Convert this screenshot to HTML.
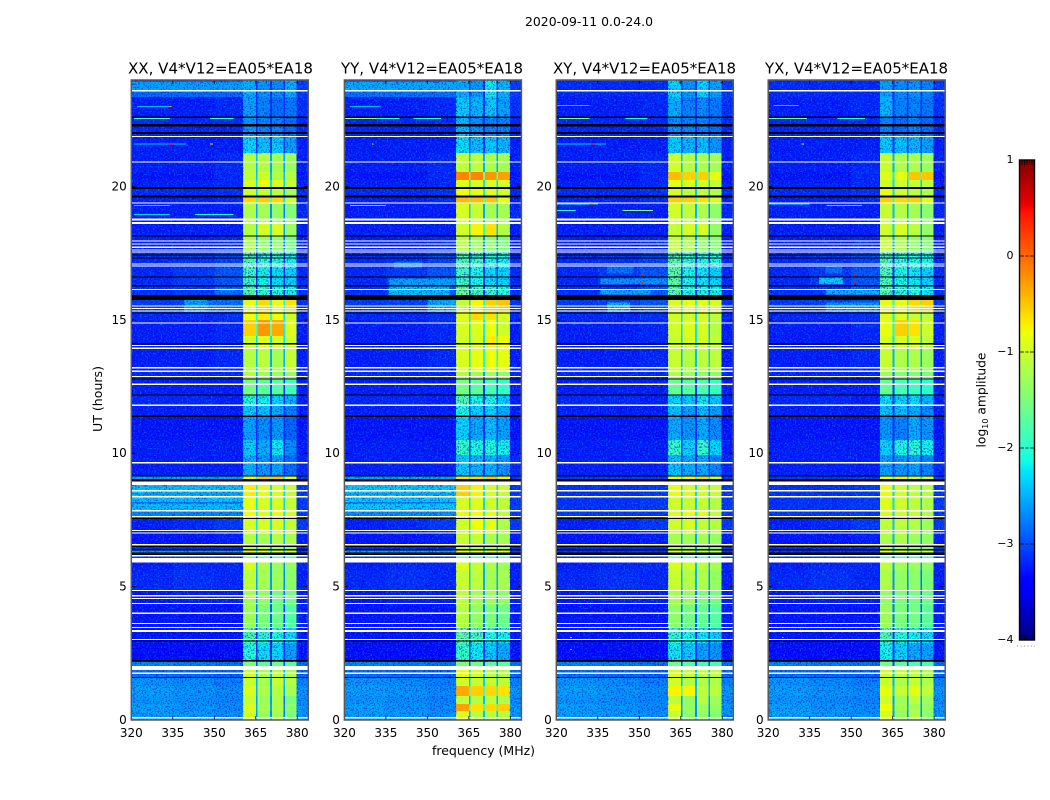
<!DOCTYPE html>
<html lang="en">
<head>
<meta charset="utf-8">
<title>2020-09-11 0.0-24.0</title>
<style>
html,body{margin:0;padding:0;background:#fff;width:1050px;height:800px;overflow:hidden}
svg{display:block}
text{font-family:"DejaVu Sans","Liberation Sans",sans-serif;fill:#000}
</style>
</head>
<body>
<svg id="figure" xmlns="http://www.w3.org/2000/svg" width="1050" height="800" viewBox="0 0 1050 800">
  <defs>
    <filter id="grain-light" x="0" y="0" width="1" height="1" color-interpolation-filters="sRGB">
      <feTurbulence type="fractalNoise" baseFrequency="0.62" numOctaves="2" seed="4"/>
      <feColorMatrix type="matrix" values="0 0 0 0 0.05  0 0 0 0 0.55  0 0 0 0 1  6 0 0 0 -3.1"/>
    </filter>
    <filter id="grain-dark" x="0" y="0" width="1" height="1" color-interpolation-filters="sRGB">
      <feTurbulence type="fractalNoise" baseFrequency="0.62" numOctaves="2" seed="11"/>
      <feColorMatrix type="matrix" values="0 0 0 0 0  0 0 0 0 0  0 0 0 0 0.72  0 6 0 0 -3.1"/>
    </filter>
    <linearGradient id="jet-gradient" x1="0" y1="1" x2="0" y2="0"></linearGradient>
  </defs>
  <rect x="0" y="0" width="1050" height="800" fill="#fff"/>
  <text x="589" y="26" font-size="12" text-anchor="middle" textLength="128" lengthAdjust="spacingAndGlyphs">2020-09-11 0.0-24.0</text>
  <text x="483.5" y="755" font-size="12" text-anchor="middle" textLength="103" lengthAdjust="spacingAndGlyphs">frequency (MHz)</text>
  <text transform="translate(102,399) rotate(-90)" font-size="12" text-anchor="middle" textLength="66" lengthAdjust="spacingAndGlyphs">UT (hours)</text>
  <g id="panels"></g>
  <g id="colorbar">
    <rect x="1019.5" y="160" width="15" height="480" fill="url(#jet-gradient)" stroke="#000" stroke-width="1.4"/>
    <line x1="1017" y1="646" x2="1035" y2="646" stroke="#8a8a8a" stroke-width="1" stroke-dasharray="1 2.5"/>
    <text transform="translate(985.5,400) rotate(-90)" font-size="12.3" text-anchor="middle">log<tspan font-size="8" dy="2.5">10</tspan><tspan dy="-2.5"> amplitude</tspan></text>
  </g>
</svg>
<script>
// ---------- chart data ----------
const panelTitles = ['XX, V4*V12=EA05*EA18', 'YY, V4*V12=EA05*EA18', 'XY, V4*V12=EA05*EA18', 'YX, V4*V12=EA05*EA18'];
const panelKeys = ['xx', 'yy', 'xy', 'yx'];
const freqTicks = [320, 335, 350, 365, 380];
const hourTicks = [0, 5, 10, 15, 20];
const colorbarTicks = [1, 0, -1, -2, -3, -4];

// Frequency columns in MHz
const bgFreqEdges = [320, 335, 350, 360.4];
const channelFreqEdges = [[360.4, 365], [365.6, 370.2], [370.8, 375], [375.6, 379.8]];
const gapFreqEdges = [[365, 365.6], [370.2, 370.8], [375, 375.6]];
const endFreqEdges = [379.8, 384];

// Time bands in hours
const bandEdges = [0,.34,.6,.9,1.28,1.58,1.88,2.18,2.89,3.45,4.31,4.88,5.63,5.93,6.26,6.41,6.6,7.01,7.54,7.88,8.36,8.81,9.15,9.94,10.5,11.36,11.81,12.19,12.75,13.05,13.91,14.4,15,15.3,15.75,16.31,16.95,17.55,18.15,18.6,19.35,19.61,19.95,20.25,20.55,21.26,21.86,22.58,23.36,24];

// Background log10 amplitude per band
const bgLow = [-2.55,-2.55,-2.6,-2.55,-2.6,-2.8,-2.7,-3.35,-3.3,-3.3,-3.3,-3.2,-3.25,-3.1,-3.1,-3.2,-3.3,-3.25,-3.1,-3.15,-3.15,-3.1,-3.25,-3.25,-3.3,-3.25,-3.2,-3.25,-3.2,-3.25,-3.25,-3.25,-3.2,-3.1,-3.15,-3.2,-3.2,-3.25,-3.25,-3.25,-3.25,-3.2,-3.25,-3.3,-3.25,-3.25,-3.2,-3.25,-3.2];
const bgMid = [-2.58,-2.6,-2.63,-2.6,-2.65,-2.85,-2.75,-3.35,-3.3,-3.3,-3.25,-3.15,-3.2,-3.1,-3.1,-3.2,-3.3,-3.2,-3.1,-3.15,-3.15,-3.1,-3.25,-3.25,-3.3,-3.25,-3.2,-3.25,-3.2,-3.25,-3.25,-3.25,-3.2,-3.05,-3.1,-3.1,-3.15,-3.25,-3.25,-3.25,-3.25,-3.2,-3.25,-3.3,-3.25,-3.25,-3.2,-3.25,-3.2];
const bgHigh = [-2.63,-2.65,-2.68,-2.66,-2.72,-2.88,-2.8,-3.35,-3.3,-3.3,-3.25,-3.2,-3.2,-3.1,-3.1,-3.2,-3.25,-3.1,-3.1,-3.1,-3.1,-3.1,-3.25,-3.25,-3.3,-3.25,-3.25,-3.25,-3.2,-3.2,-3.2,-3.2,-3.15,-2.95,-2.9,-2.95,-3.05,-3.2,-3.25,-3.25,-3.2,-3.15,-3.2,-3.2,-3.2,-3.25,-3.2,-3.2,-3.2];
const bgEnd = [-2.6,-2.6,-2.65,-2.6,-2.7,-2.85,-2.8,-3.3,-3.25,-3.25,-3.25,-3.25,-3.25,-3.1,-3.1,-3.2,-3.25,-3.1,-3.1,-3.1,-3.1,-3.1,-3.2,-3.25,-3.3,-3.25,-3.25,-3.25,-3.2,-3.25,-3.25,-3.25,-3.2,-3.15,-3.15,-3.2,-3.2,-3.25,-3.25,-3.2,-3.25,-3.2,-3.25,-3.3,-3.25,-3.25,-3.2,-3.15,-3.1];

// Four channel levels per band, one table per correlation
const xxLevels = [[-1,-1.35,-1.25,-1.5],[-.95,-1.25,-1.2,-1.4],[-1.05,-1.3,-1.2,-1.5],[-.95,-1.2,-1.15,-1.25],[-1.05,-1.25,-1.05,-1.15],[-1,-1.2,-1.1,-1.2],[-1.5,-1.7,-1.6,-1.7],[-2.05,-2.25,-2.3,-2.55],[-1.8,-2,-2.05,-2.25],[-1.3,-1.5,-1.6,-1.75],[-1.25,-1.35,-1.55,-1.55],[-1.1,-1.25,-1.3,-1.4],[-.95,-1.2,-1.3,-1.35],[-1.6,-1.7,-1.8,-1.9],[-.75,-.85,-.9,-.95],[-1.2,-1.1,-1.3,-1.4],[-1.15,-1.25,-1.15,-1.2],[-.95,-.95,-.95,-1.05],[-.8,-.9,-.85,-.95],[-.85,-.95,-.95,-1.05],[-.7,-.85,-.95,-1.05],[-.75,-.5,-.5,-.9],[-2.5,-2.6,-2.55,-2.8],[-2.35,-2.5,-2.2,-2.65],[-2.55,-2.65,-2.6,-2.85],[-2.35,-2.4,-2.5,-2.7],[-2.05,-2.15,-2.3,-2.45],[-1.55,-1.7,-1.75,-1.9],[-1.15,-1.3,-1.3,-1.35],[-1.15,-1.1,-1.25,-1.05],[-1,-.9,-.95,-1],[-.55,-.25,-.35,-.9],[-.8,-.7,-.8,-1],[-.85,-.6,-.85,-.65],[-1.75,-1.95,-2.05,-2.15],[-1.9,-2.15,-2.25,-2.3],[-1.8,-2,-2,-2.15],[-1.2,-1.35,-1.4,-1.55],[-1.15,-.95,-.95,-1.3],[-1.2,-1.25,-1.35,-1.45],[-.6,-.55,-.6,-1],[-1,-1.05,-1.1,-1.25],[-.95,-.8,-.95,-1.05],[-1.1,-1,-1.15,-1.15],[-1.15,-1.15,-1.25,-1.3],[-2.3,-2.4,-2.35,-2.55],[-2.6,-2.7,-2.7,-2.8],[-2.55,-2.7,-2.8,-2.75],[-2.5,-2.6,-2.65,-2.5]];
const yyLevels = [[-.95,-1.15,-1.15,-1.15],[-.3,-.65,-.6,-.55],[-1.1,-1.15,-1.1,-1.2],[-.35,-.55,-.6,-.65],[-1,-1.05,-1.05,-1.1],[-.85,-.95,-1.1,-1.15],[-1.5,-1.6,-1.7,-1.7],[-1.95,-2.2,-2.35,-2.5],[-1.7,-1.85,-2.05,-2.15],[-1.15,-1.35,-1.5,-1.6],[-1.1,-1.25,-1.3,-1.4],[-1.05,-1.1,-1.25,-1.25],[-.9,-1.05,-1.2,-1.3],[-1.6,-1.7,-1.8,-1.9],[-.8,-.85,-.85,-.9],[-1.1,-1.2,-1.3,-1.3],[-1.05,-1.05,-1.2,-1.25],[-1,-.8,-.85,-1.2],[-.85,-.8,-.85,-1.1],[-.95,-.9,-1,-1.1],[-.55,-.75,-.95,-1.05],[-.65,-.6,-.5,-.75],[-2.35,-2.45,-2.45,-2.6],[-1.95,-2.1,-2.05,-2.15],[-2.3,-2.5,-2.4,-2.55],[-2.1,-2.3,-2.3,-2.5],[-1.8,-2.1,-2.1,-2.35],[-1.55,-1.7,-1.85,-1.95],[-1.2,-1.3,-1.3,-1.35],[-.95,-.85,-.8,-.85],[-1,-.95,-.7,-.8],[-.95,-.9,-.8,-1],[-.9,-.6,-.65,-.95],[-1.05,-.75,-.55,-.5],[-1.6,-1.85,-1.95,-2.05],[-1.9,-2.1,-2.25,-2.3],[-1.8,-1.95,-2.05,-2.15],[-1.15,-1.3,-1.4,-1.5],[-1,-.75,-.65,-1.15],[-.95,-1.05,-1.25,-1.25],[-.45,-.45,-.5,-.85],[-.8,-.85,-.9,-1],[-.9,-.95,-.95,-1],[-.15,-.15,-.25,-.3],[-1.1,-1.1,-1.2,-1.25],[-2.25,-2.4,-2.35,-2.45],[-2.45,-2.65,-2.7,-2.7],[-2.35,-2.45,-2.35,-2.55],[-2.5,-2.6,-2.2,-2.45]];
const xyLevels = [[-1.05,-1.4,-1.35,-1.45],[-.85,-1.35,-1.3,-1.35],[-1.1,-1.35,-1.15,-1.3],[-.75,-.75,-1.1,-1.1],[-1,-1.15,-1.2,-1.2],[-.95,-1.05,-1.1,-1.1],[-1.6,-1.75,-1.85,-1.85],[-2.2,-2.35,-2.55,-2.6],[-1.95,-2.1,-2.2,-2.3],[-1.4,-1.55,-1.65,-1.75],[-1.25,-1.35,-1.5,-1.55],[-1.05,-1.15,-1.2,-1.35],[-.95,-1,-1.1,-1.25],[-1.7,-1.8,-1.85,-1.9],[-.85,-.95,-1,-1.05],[-1.25,-1.3,-1.4,-1.5],[-1.25,-1.25,-1.25,-1.35],[-1,-.95,-1.05,-1.15],[-.95,-.85,-.85,-1.1],[-1,-1.05,-1.05,-1.15],[-.85,-.95,-1,-1.05],[-.85,-.75,-.6,-.95],[-2.4,-2.5,-2.5,-2.7],[-1.95,-2.3,-1.95,-2.3],[-2.5,-2.6,-2.5,-2.65],[-2.4,-2.55,-2.4,-2.55],[-2.3,-2.35,-2.2,-2.35],[-1.65,-1.75,-1.8,-1.95],[-1.2,-1.3,-1.35,-1.4],[-1.05,-1.15,-1.1,-1.1],[-1.05,-.95,-.95,-1.1],[-1,-.9,-.95,-1.15],[-1,-1,-.95,-1.1],[-.95,-.85,-.85,-.95],[-1.75,-2.05,-2.1,-2.15],[-1.7,-2.1,-2.2,-2.3],[-1.75,-1.95,-2.05,-2.05],[-1.1,-1.2,-1.35,-1.45],[-1.05,-.95,-.95,-1.35],[-1,-1.1,-1.2,-1.4],[-.55,-.55,-.65,-.95],[-.95,-1.1,-1.1,-1.2],[-.85,-.9,-.95,-1.05],[-.45,-.55,-.55,-.85],[-1,-1.15,-1.2,-1.25],[-2.35,-2.45,-2.4,-2.6],[-2.65,-2.7,-2.7,-2.8],[-2.5,-2.7,-2.65,-2.75],[-2.3,-2.6,-2.3,-2.55]];
const yxLevels = [[-.95,-1.35,-1.2,-1.4],[-.8,-1.25,-1.25,-1.35],[-1,-1.3,-1.1,-1.3],[-.85,-1.05,-.85,-1.1],[-1.05,-1.2,-1.05,-1.2],[-1,-1.1,-1.1,-1.2],[-1.55,-1.7,-1.8,-1.8],[-2.15,-2.3,-2.5,-2.55],[-1.8,-2,-2.15,-2.25],[-1.3,-1.5,-1.55,-1.7],[-1.35,-1.5,-1.55,-1.6],[-1.2,-1.35,-1.4,-1.5],[-1.1,-1.25,-1.3,-1.35],[-1.7,-1.8,-1.85,-1.9],[-.8,-.9,-1.05,-.9],[-1.25,-1.3,-1.4,-1.5],[-1.2,-1.2,-1.3,-1.35],[-1.1,-1.1,-1.15,-1.3],[-.95,-1,-1.05,-1.2],[-.9,-1,-1.1,-1.2],[-.85,-1,-1.1,-1.15],[-.8,-.7,-.95,-1],[-2.55,-2.6,-2.55,-2.7],[-2.3,-2.1,-2,-2.15],[-2.6,-2.7,-2.5,-2.6],[-2.4,-2.4,-2.5,-2.65],[-2.25,-2.3,-2.25,-2.45],[-1.65,-1.85,-1.9,-2],[-1.3,-1.45,-1.45,-1.5],[-1.05,-1.2,-1.2,-1.3],[-.95,-.95,-.9,-1.1],[-.85,-.55,-.65,-1],[-.9,-.9,-1,-1.1],[-.85,-.85,-.6,-.55],[-1.75,-2,-2.05,-2.2],[-1.8,-2.1,-2.2,-2.3],[-1.8,-2,-2.05,-2.1],[-1.05,-1.2,-1.35,-1.45],[-1,-.95,-1.1,-1.35],[-1.05,-1.15,-1.25,-1.4],[-.55,-.6,-.55,-.9],[-.85,-1,-1.1,-1.2],[-1,-1,-1.05,-1.1],[-.9,-.85,-.5,-.5],[-1.05,-1.2,-1.2,-1.3],[-2.35,-2.4,-2.45,-2.55],[-2.7,-2.8,-2.7,-2.8],[-2.45,-2.7,-2.7,-2.75],[-2.55,-2.65,-2.6,-2.7]];

// Broadband patches: [fromMHz, toMHz, fromHour, toHour, level]
const xxPatches = [[320,360.4,23.36,23.6,-2.85],[320,360.4,23.6,23.95,-2.55],[320,360.4,6.26,6.41,-2.55],[320,360.4,7.54,7.88,-2.7],[320,360.4,7.88,8.81,-2.38],[320,360.4,8.12,8.18,-2.8],[320,360.4,8.45,8.5,-2.75],[320,360.4,8.81,9.15,-2.55],[339,347.5,15.3,15.75,-2.55],[347.5,360.4,15.3,15.75,-2.8],[350,358,16,16.2,-2.75]];
const yyPatches = [[320,360.4,23.36,23.6,-2.8],[320,360.4,23.6,23.95,-2.5],[320,360.4,6.26,6.41,-2.5],[320,360.4,7.54,7.88,-2.65],[320,360.4,7.88,8.81,-2.33],[320,360.4,8.12,8.18,-2.75],[320,360.4,8.45,8.5,-2.7],[320,360.4,8.81,9.15,-2.5],[350,360.4,15.3,15.75,-2.5],[336,358,15.9,16.3,-2.4],[336,360,16.32,16.55,-2.55],[338,348,16.95,17.2,-2.75]];
const xyPatches = [[338.3,346.7,15.3,15.65,-2.45],[336,354,15.95,16.15,-2.5],[336,360,16.35,16.55,-2.6],[338.3,348,16.75,17,-2.8]];
const yxPatches = [[340.7,360,15.3,15.65,-2.6],[340.7,360,15.95,16.15,-2.45],[338.3,347,16.35,16.6,-2.35],[340.7,346.7,16.75,17,-2.8]];

// Narrow RFI lines: [fromMHz, toMHz, hour, level]
const xxSpikes = [[321,334,22.55,-1.9],[348.5,357,22.55,-2],[321,340,21.6,-2.35],[333.5,335,21.6,.1],[348.5,349.5,21.6,-.6],[321,334,19.3,-2.3],[321,334,18.95,-2.3],[343,357,18.95,-2.1],[322,334,23,-2.45],[334,334.5,23,-.5],[351.5,352,16.6,.4],[351.5,352,16.7,.4],[356,356.5,18.15,-.7]];
const yySpikes = [[320,332,22.55,-1.3],[332,340,22.55,-2],[345,355,22.55,-2.1],[322,333,23,-2.45],[330,330.5,21.6,-.8],[322,335,19.3,-2.1],[322.5,323,19.3,-.7],[351,351.5,16.6,.3]];
const xySpikes = [[320,332,23.05,-2.4],[321,332,22.55,-1.5],[345,353,22.55,-2.1],[320,338,21.6,-2.3],[332.5,334,21.6,.2],[320,335,19.35,-2],[332,333.5,19.35,.1],[344,355,19.1,-1.4],[320,327,19.1,-2],[351,351.5,16.7,.4],[351,351.5,16.4,.4],[325,325.6,3.1,-.4],[342.5,343,3.1,.3],[342.5,343,2.65,.5],[325,325.6,2.65,-.4],[365,370,15.9,-1.3]];
const yxSpikes = [[322,331,23.05,-2.4],[320,334,22.55,-1.6],[345,355,22.55,-2.1],[332,333,21.6,-1],[320,335,19.35,-2.2],[341,354,19.3,-2.2],[351,351.5,16.7,.4],[351,351.5,16.4,.4],[325,325.6,3.1,-.4],[342.5,343,3.1,.3],[342.5,343,2.65,.5]];

// Flagged time slots: [centreHour, thicknessHours]
const whiteFlags = [[23.59,.06],[21.88,.045],[20.93,.045],[19.39,.045],[18.77,.075],[18.64,.075],[17.96,.045],[17.85,.045],[17.72,.055],[17.63,.045],[17.55,.045],[17.1,.045],[17.03,.045],[16.14,.045],[15.53,.045],[15.43,.045],[15.34,.045],[14.89,.045],[14.04,.045],[13.94,.045],[13.21,.045],[13.08,.045],[12.88,.045],[12.59,.045],[11.8,.045],[9.65,.045],[8.88,.125],[8.6,.045],[8.37,.045],[7.84,.06],[7.63,.045],[7.11,.045],[7.01,.045],[6.57,.045],[6.16,.045],[5.99,.16],[4.86,.045],[4.66,.045],[4.56,.045],[4.37,.045],[4,.045],[3.62,.045],[3.47,.045],[3.34,.08],[3.02,.045],[1.95,.16],[1.75,.045],[.08,.05]];
const blackFlags = [[22.61,.06],[22.31,.09],[22.01,.07],[19.95,.08],[19.63,.06],[18.15,.04],[17.44,.04],[17.33,.04],[16.61,.04],[16.28,.05],[15.84,.19],[15.26,.05],[14.11,.04],[12.79,.04],[12.18,.04],[11.39,.05],[9.15,.05],[8.99,.11],[7.56,.04],[6.51,.05],[6.38,.05],[6.24,.09],[2.96,.04],[2.22,.07],[1.59,.04]];

// Hour ranges where the channels look speckled
const speckleRanges = [[9.15,12.2],[2.18,3.45],[15.75,17.55],[21.26,24]];

// ---------- layout and scales ----------
const NS = 'http://www.w3.org/2000/svg';
const panelLefts = [131.3, 344.4, 556.3, 768.2];
const titleCentres = [220.5, 432, 644.5, 856.5];
const titleWidths = [185, 182, 183, 183];
const plotTop = 80, plotBottom = 720, plotWidth = 177;
const freqMin = 320, freqMax = 384, hourMax = 24;
const cmapMin = -4, cmapMax = 1;
const gapDrop = 1.3, gapFloor = -3.1;

function hourY(h) { return plotBottom - (h / hourMax) * (plotBottom - plotTop); }
function freqX(left, f) { return left + (f - freqMin) / (freqMax - freqMin) * plotWidth; }
function barY(v) { return 640 - (v - cmapMin) / (cmapMax - cmapMin) * 480; }

function segment(t, pts) {
  for (let i = 1; i < pts.length; i++) {
    if (t <= pts[i][0]) {
      const a = pts[i - 1], b = pts[i];
      return a[1] + (b[1] - a[1]) * (t - a[0]) / (b[0] - a[0]);
    }
  }
  return pts[pts.length - 1][1];
}
function jet(v) {
  const t = Math.max(0, Math.min(1, (v - cmapMin) / (cmapMax - cmapMin)));
  const r = segment(t, [[0,0],[.35,0],[.66,1],[.89,1],[1,.5]]);
  const g = segment(t, [[0,0],[.125,0],[.375,1],[.64,1],[.91,0],[1,0]]);
  const b = segment(t, [[0,.5],[.11,1],[.34,1],[.65,0],[1,0]]);
  return 'rgb(' + Math.round(r * 255) + ',' + Math.round(g * 255) + ',' + Math.round(b * 255) + ')';
}
function svgEl(tag, attrs, parent) {
  const el = document.createElementNS(NS, tag);
  for (const k in attrs) el.setAttribute(k, attrs[k]);
  parent.appendChild(el);
  return el;
}
function drawCell(parent, left, f0, f1, h0, h1, v) {
  const x0 = freqX(left, f0), x1 = freqX(left, f1), y0 = hourY(h1), y1 = hourY(h0);
  const el = svgEl('rect', { x: x0, y: y0, width: x1 - x0, height: y1 - y0, fill: jet(v), 'shape-rendering': 'crispEdges' }, parent);
  
  
}

const allLevels = { xx: xxLevels, yy: yyLevels, xy: xyLevels, yx: yxLevels };
const allPatches = { xx: xxPatches, yy: yyPatches, xy: xyPatches, yx: yxPatches };
const allSpikes = { xx: xxSpikes, yy: yySpikes, xy: xySpikes, yx: yxSpikes };
const panelsRoot = document.getElementById('panels');

panelKeys.forEach(function (key, p) {
  const left = panelLefts[p];
  const right = left + plotWidth;
  const g = svgEl('g', {}, panelsRoot);
  
  

  const levels = allLevels[key];
  for (let b = 0; b < bandEdges.length - 1; b++) {
    const h0 = bandEdges[b], h1 = bandEdges[b + 1];
    const bg = [bgLow[b], bgMid[b], bgHigh[b]];
    for (let c = 0; c < 3; c++) drawCell(g, left, bgFreqEdges[c], bgFreqEdges[c + 1], h0, h1, bg[c]);
    channelFreqEdges.forEach(function (edge, c) {
      drawCell(g, left, edge[0], edge[1], h0, h1, levels[b][c]);
    });
    gapFreqEdges.forEach(function (edge, c) {
      drawCell(g, left, edge[0], edge[1], h0, h1, Math.max(Math.min(levels[b][c], levels[b][c + 1]) - gapDrop, gapFloor));
    });
    drawCell(g, left, endFreqEdges[0], endFreqEdges[1], h0, h1, bgEnd[b]);
  }

  allPatches[key].forEach(function (q) { drawCell(g, left, q[0], q[1], q[2], q[3], q[4]); });

  // speckle texture over the noise-dominated regions
  [[freqMin, bgFreqEdges[3]], [endFreqEdges[0], freqMax]].forEach(function (range) {
    ['grain-light', 'grain-dark'].forEach(function (id) {
      const grain = svgEl('rect', {
        x: freqX(left, range[0]), y: plotTop,
        width: freqX(left, range[1]) - freqX(left, range[0]), height: plotBottom - plotTop,
        filter: 'url(#' + id + ')', opacity: id === 'grain-light' ? 0.5 : 0.55, fill: '#000'
      }, g);
      
      
    });
  });
  speckleRanges.forEach(function (range) {
    const sp = svgEl('rect', {
      x: freqX(left, bgFreqEdges[3]), y: hourY(range[1]),
      width: freqX(left, endFreqEdges[0]) - freqX(left, bgFreqEdges[3]), height: hourY(range[0]) - hourY(range[1]),
      filter: 'url(#grain-dark)', opacity: 0.55, fill: '#000'
    }, g);
    
    
  });

  allSpikes[key].forEach(function (s) {
    drawCell(g, left, s[0], s[1], s[2] - 0.02, s[2] + 0.02, s[3]);
  });

  whiteFlags.forEach(function (f) {
    const y0 = hourY(f[0] + f[1] / 2), y1 = hourY(f[0] - f[1] / 2);
    const el = svgEl('rect', { x: left, y: y0, width: plotWidth, height: y1 - y0, fill: '#fff', 'shape-rendering': 'crispEdges' }, g);
    
    
  });
  blackFlags.forEach(function (f) {
    const y0 = hourY(f[0] + f[1] / 2), y1 = hourY(f[0] - f[1] / 2);
    const el = svgEl('rect', { x: left, y: y0, width: plotWidth, height: y1 - y0, fill: '#000', 'shape-rendering': 'crispEdges' }, g);
    
    
  });

  // ticks and labels
  freqTicks.forEach(function (f) {
    const x = freqX(left, f);
    const tb = svgEl('line', { x1: x, y1: plotBottom, x2: x, y2: plotBottom - 4, stroke: '#000', 'stroke-width': 0.8 }, g);
    
    
    const tt = svgEl('line', { x1: x, y1: plotTop, x2: x, y2: plotTop + 4, stroke: '#000', 'stroke-width': 0.8 }, g);
    
    
    const lab = svgEl('text', { x: x, y: 737, 'font-size': 12, 'text-anchor': 'middle' }, g);
    lab.textContent = String(f);
    
    
  });
  hourTicks.forEach(function (h) {
    const y = hourY(h);
    const tl = svgEl('line', { x1: left, y1: y, x2: left + 4, y2: y, stroke: '#000', 'stroke-width': 0.8 }, g);
    
    
    const tr = svgEl('line', { x1: right, y1: y, x2: right - 4, y2: y, stroke: '#000', 'stroke-width': 0.8 }, g);
    
    
    const lab = svgEl('text', { x: left - 4.5, y: y + 3.8, 'font-size': 12, 'text-anchor': 'end' }, g);
    lab.textContent = String(h);
    
    
  });

  const frame = svgEl('rect', { x: left, y: plotTop, width: plotWidth, height: plotBottom - plotTop, fill: 'none', stroke: '#5a5a5a', 'stroke-width': 1.5 }, g);
  
  

  const title = svgEl('text', { x: titleCentres[p], y: 73.5, 'font-size': 15, 'text-anchor': 'middle', textLength: titleWidths[p], lengthAdjust: 'spacingAndGlyphs' }, g);
  title.textContent = panelTitles[p];
  
  
});

// ---------- colorbar ----------
const gradient = document.getElementById('jet-gradient');
for (let i = 0; i <= 100; i++) {
  const stop = svgEl('stop', { offset: (i / 100), 'stop-color': jet(cmapMin + (cmapMax - cmapMin) * i / 100) }, gradient);
}
const bar = document.getElementById('colorbar');
colorbarTicks.forEach(function (v) {
  const y = barY(v);
  const lab = svgEl('text', { x: 1013.5, y: y + 3.2, 'font-size': 11, 'text-anchor': 'end' }, bar);
  lab.textContent = (v < 0 ? '\u2212' + Math.abs(v) : String(v));
  
  
  if (v > cmapMin && v < cmapMax) {
    [[1019.5, 1024], [1025.5, 1028.5], [1030, 1034.5]].forEach(function (seg) {
      const t = svgEl('line', { x1: seg[0], y1: y, x2: seg[1], y2: y, stroke: '#000', 'stroke-width': 0.8 }, bar);
      
      
    });
  }
});
[1022, 1024.5, 1027, 1029.5, 1032].forEach(function (x) {
  const top = svgEl('line', { x1: x, y1: 160, x2: x, y2: 165, stroke: '#000', 'stroke-width': 0.8 }, bar);
  
  
  const bottom = svgEl('line', { x1: x, y1: 640, x2: x, y2: 635, stroke: '#000', 'stroke-width': 0.8 }, bar);
  
  
});
</script>
</body>
</html>
